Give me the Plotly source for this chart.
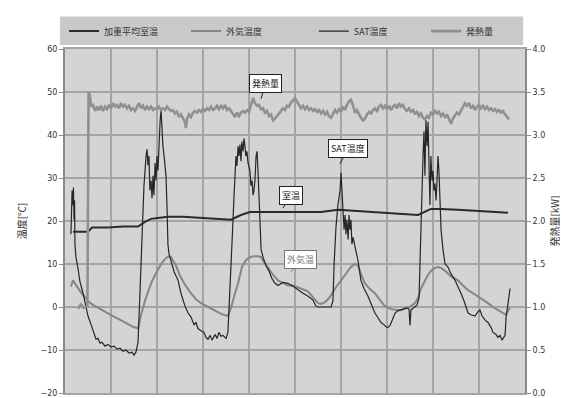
import plotly.graph_objects as go

# ---------------- data (hours from start) ----------------
sat_h = [3.1, 3.7, 4.2, 4.4, 4.7, 5.0, 5.2, 5.7, 6.8, 7.8, 9.4, 11.0, 12.0, 13.6, 15.1, 16.2, 17.2, 18.3,
         19.3, 20.9, 22.4, 24.0, 25.6, 27.1, 28.7, 30.3, 31.8, 33.4, 35.0, 36.0, 37.0, 38.1, 39.1, 40.2,
         41.2, 42.3, 42.8, 43.3, 43.8, 44.3, 44.9, 45.4, 45.9, 46.4, 47.0, 47.5, 48.0, 48.5, 49.0, 49.6,
         50.1, 50.6, 51.1, 51.7, 52.2, 52.7, 53.2, 53.7, 54.3, 55.3, 56.9, 59.0, 60.5, 62.6, 64.2, 65.7,
         67.3, 68.3, 69.4, 71.0, 72.5, 73.6, 74.6, 75.7, 76.7, 78.3, 79.3, 80.3, 81.4, 82.4, 84.0, 85.0,
         86.1, 87.1, 88.2, 89.2, 89.7, 90.3, 90.8, 91.3, 91.8, 92.3, 92.9, 93.4, 93.9, 94.4, 94.9, 95.5,
         96.5, 97.0, 97.6, 98.1, 98.6, 99.1, 99.7, 100.2, 100.7, 101.2, 101.7, 102.3, 103.3, 104.9, 106.4,
         108.0, 109.6, 111.1, 113.7, 116.3, 119.0, 121.6, 124.2, 126.8, 129.4, 130.9, 132.0, 138.8, 139.8,
         140.4, 140.9, 141.4, 142.4, 143.5, 144.0, 144.5, 145.0, 145.6, 146.1, 146.6, 147.1, 147.7, 148.2,
         148.7, 149.2, 149.7, 150.3, 151.3, 152.9, 154.4, 156.0, 158.1, 159.7, 161.7, 163.3, 164.9, 166.4,
         167.5, 168.5, 169.6, 170.6, 172.2, 173.7, 175.3, 176.9, 178.4, 179.5, 180.0, 180.5, 182.1, 183.7,
         184.7, 185.2, 185.7, 186.3, 186.8, 187.3, 187.8, 188.3, 188.9, 189.4, 189.9, 190.4, 190.9, 191.5,
         192.0, 192.5, 193.0, 193.6, 194.1, 194.6, 195.1, 195.7, 196.2, 197.2, 198.3, 199.8, 201.4, 203.5,
         205.0, 206.6, 208.2, 210.3, 211.8, 213.9, 215.5, 216.5, 217.6, 219.1, 220.7, 222.3, 223.3, 224.9,
         225.9, 227.0, 228.0, 229.0, 229.6, 230.1, 231.1, 232.2]
sat_t = [16.9, 27.1, 23.7, 27.8, 20.3, 24.8, 14.6, 11.6, 8.9, 5.9, 3.2, -0.2, -2.1, -4.1, -5.9, -7.5, -7.3, -8.4,
         -8.2, -9.1, -8.7, -9.3, -9.1, -9.8, -9.6, -10.3, -10.0, -10.7, -10.5, -11.2, -10.5, -8.2, 3.2, 16.9,
         28.2, 35.1, 36.7, 33.0, 35.1, 27.1, 29.4, 25.3, 30.5, 26.0, 33.5, 29.4, 35.1, 31.7, 39.6, 43.1,
         45.8, 40.8, 37.4, 35.1, 32.8, 30.5, 23.7, 14.6, 12.3, 10.7, 8.2, 6.2, 3.2, 0.2, -1.4, -2.3,
         -4.1, -3.6, -5.0, -5.5, -5.9, -7.1, -7.5, -6.6, -7.7, -6.4, -7.3, -5.9, -6.8, -6.6, -7.3, -5.9,
         3.2, 14.6, 26.0, 35.1, 32.8, 37.4, 35.1, 37.8, 33.9, 38.5, 36.2, 39.2, 37.4, 35.1, 36.2, 33.5,
         31.7, 28.2, 29.4, 26.0, 27.1, 29.4, 35.1, 36.2, 31.7, 24.8, 19.1, 13.4, 11.6, 9.6, 8.4,
         6.6, 5.5, 5.0, 5.7, 5.5, 4.8, 3.9, 3.2, 2.5, 1.6, 0.2, 0.0, 0.0, 1.4,
         10.0, 14.6, 18.7, 23.7, 27.1, 31.2, 26.0, 23.7, 18.0, 21.4, 16.9, 20.3, 15.7, 21.4,
         18.0, 20.3, 14.6, 16.2, 13.9, 10.7, 6.2, 4.3, 2.5, 0.9, -1.4, -2.5, -3.6, -4.1,
         -4.6, -4.8, -4.3, -3.2, -1.4, -0.9, -0.7, -0.5, -0.2, -0.5, -4.3, -0.7, -0.2, 0.5,
         2.1, 10.0, 23.7, 32.8, 35.1, 40.8, 30.5, 43.5, 37.4, 43.1, 30.5, 23.7, 35.1, 29.4,
         31.7, 27.1, 28.7, 24.8, 29.4, 35.1, 31.7, 23.7, 18.0, 13.4, 10.0, 9.3, 7.7, 6.2,
         4.8, 3.2, 1.4, -1.4, -1.8, -2.1, -1.1, -0.7, -2.1, -3.0, -3.6, -4.8, -5.9, -6.4,
         -7.1, -6.6, -7.7, -7.1, -6.6, -2.5, 1.4, 4.3]

out_h = [3.1, 4.2, 5.2, 6.8, 8.3, 10.4, 12.0, 14.6, 17.2, 19.8, 22.4, 25.0, 27.6, 30.3, 32.9, 35.5, 38.1,
         39.7, 41.7, 43.3, 44.9, 47.0, 48.5, 50.6, 52.7, 54.3, 55.3, 56.3, 57.9, 60.0, 62.6, 65.7, 68.3,
         71.0, 74.6, 78.3, 81.4, 85.0, 86.6, 88.7, 90.3, 92.3, 94.4, 96.5, 98.6, 100.7, 102.3, 103.8,
         105.9, 108.5, 111.1, 113.7, 116.3, 119.0, 121.6, 124.2, 126.8, 129.4, 132.0, 133.6, 135.7,
         137.2, 138.8, 141.4, 144.0, 146.6, 149.2, 151.3, 152.9, 154.4, 156.5, 159.2, 161.7, 164.3,
         166.9, 170.1, 172.7, 175.3, 177.9, 180.5, 182.6, 184.2, 185.7, 187.8, 189.4, 190.9, 193.0,
         194.6, 196.2, 198.3, 199.8, 201.4, 203.5, 205.0, 207.6, 210.3, 212.9, 215.5, 218.1, 220.7,
         223.3, 225.9, 228.5, 230.1, 231.1, 232.2]
out_t = [4.8, 6.2, 5.5, 4.3, 3.4, 2.3, 1.4, 0.5, -0.2, -0.9, -1.4, -2.1, -2.7, -3.4, -4.1, -4.6, -5.0,
         -1.8, 1.4, 3.6, 5.5, 7.5, 8.7, 10.3, 11.4, 11.8, 11.6, 10.9, 9.6, 7.3, 5.2, 3.2, 1.8,
         0.9, 0.0, -0.9, -1.6, -2.1, -0.2, 3.2, 5.5, 9.3, 10.9, 11.6, 11.8, 11.8, 11.6, 10.5,
         9.1, 7.5, 6.2, 5.5, 5.0, 5.0, 4.6, 4.1, 3.6, 2.3, 0.9, 0.7, 1.1,
         1.8, 2.7, 4.6, 6.2, 7.7, 9.3, 10.0, 9.6, 7.7, 5.5, 4.1, 3.2, 1.6,
         0.2, -0.5, -0.7, -0.7, -0.2, 0.2, 0.9, 2.1, 4.3, 6.2, 7.5, 8.4, 9.1,
         9.3, 9.1, 8.4, 7.7, 7.1, 6.6, 6.2, 5.0, 3.9, 3.2, 2.5, 1.6, 0.9,
         0.0, -0.7, -1.4, -1.8, -0.9, -0.2]

room_h = [4.2, 12.0, 14.1, 22.4, 30.3, 38.1, 41.7, 44.9, 48.5, 53.7, 61.6, 71.0, 79.8, 86.6, 91.8, 96.5,
          105.9, 116.3, 126.8, 133.6, 142.4, 152.9, 164.3, 173.7, 184.2, 190.9, 196.2, 205.0, 215.5,
          225.9, 231.1]
room_t = [17.5, 17.5, 18.5, 18.5, 18.7, 18.7, 19.8, 20.5, 20.7, 21.0, 21.0, 20.7, 20.5, 20.3, 21.4, 22.1,
          22.1, 22.1, 22.1, 22.1, 22.6, 22.3, 21.9, 21.6, 21.4, 22.8, 22.8, 22.6, 22.3,
          22.1, 21.9]

heat_h = [6.8, 8.3, 9.9, 11.7, 12.3, 13.0, 13.6, 14.6, 15.7, 16.7, 17.7, 18.8, 19.8, 20.9, 21.9, 23.0, 24.0,
          25.0, 26.1, 27.1, 28.2, 29.2, 30.3, 31.3, 32.3, 33.4, 34.4, 35.5, 36.5, 37.6, 38.6, 39.7, 40.7,
          41.7, 42.8, 43.8, 44.9, 45.9, 47.0, 48.0, 49.0, 50.1, 51.1, 52.2, 53.2, 54.3, 55.3, 56.3, 57.4,
          58.4, 59.5, 60.5, 61.6, 62.6, 63.1, 63.7, 64.7, 65.7, 66.8, 67.8, 68.9, 69.9, 71.0, 72.0, 73.0,
          74.1, 75.1, 76.2, 77.2, 78.3, 79.3, 80.3, 81.4, 82.4, 83.5, 84.5, 85.6, 86.6, 87.7, 88.7, 89.7,
          90.8, 91.8, 92.9, 93.9, 95.0, 96.0, 97.0, 98.1, 99.1, 100.2, 101.2, 102.3, 103.3, 104.3, 105.4,
          106.4, 107.5, 108.5, 109.6, 110.6, 111.7, 112.7, 113.7, 114.8, 115.8, 116.9, 117.9, 119.0, 120.0,
          121.0, 122.1, 123.1, 124.2, 125.2, 126.3, 127.3, 128.3, 129.4, 130.4, 131.5, 132.5, 133.6, 134.6,
          135.7, 136.7, 137.7, 138.8, 139.8, 140.9, 141.9, 143.0, 144.0, 145.0, 146.1, 147.1, 148.2, 149.2,
          150.3, 151.3, 152.3, 153.4, 154.4, 155.5, 156.5, 157.6, 158.6, 159.7, 160.7, 161.7, 162.8, 163.8,
          164.9, 165.9, 167.0, 168.0, 169.0, 170.1, 171.1, 172.2, 173.2, 174.3, 175.3, 176.3, 177.4, 178.4,
          179.5, 180.5, 181.6, 182.6, 183.7, 184.7, 185.7, 186.8, 187.8, 188.9, 189.9, 190.9, 192.0, 193.0,
          194.1, 195.1, 196.2, 197.2, 198.3, 199.3, 200.3, 201.4, 202.4, 203.5, 204.5, 205.6, 206.6, 207.7,
          208.7, 209.7, 210.8, 211.8, 212.9, 213.9, 215.0, 216.0, 217.0, 218.1, 219.1, 220.2, 221.2, 222.3,
          223.3, 224.3, 225.4, 226.4, 227.5, 228.5, 229.6, 230.6, 231.7]
heat_kw = [0.98, 1.03, 0.99, 1.01, 3.50, 3.46, 3.33, 3.35, 3.28, 3.33, 3.29, 3.34, 3.28, 3.33, 3.30, 3.35, 3.31,
           3.37, 3.33, 3.35, 3.31, 3.37, 3.33, 3.35, 3.31, 3.34, 3.29, 3.31, 3.28, 3.33, 3.37, 3.31, 3.34,
           3.29, 3.33, 3.30, 3.33, 3.29, 3.31, 3.30, 3.33, 3.29, 3.31, 3.29, 3.33, 3.30, 3.28, 3.29, 3.25,
           3.27, 3.21, 3.24, 3.19, 3.15, 3.08, 3.19, 3.24, 3.21, 3.26, 3.28, 3.26, 3.29, 3.27, 3.30, 3.28,
           3.31, 3.29, 3.33, 3.29, 3.31, 3.34, 3.30, 3.34, 3.31, 3.35, 3.29, 3.31, 3.28, 3.24, 3.21, 3.26,
           3.22, 3.26, 3.28, 3.26, 3.29, 3.27, 3.35, 3.43, 3.37, 3.34, 3.35, 3.30, 3.31, 3.26, 3.28,
           3.22, 3.24, 3.17, 3.19, 3.22, 3.26, 3.29, 3.31, 3.29, 3.34, 3.33, 3.38, 3.40, 3.43,
           3.39, 3.35, 3.31, 3.34, 3.30, 3.33, 3.29, 3.31, 3.28, 3.30, 3.27, 3.29, 3.25, 3.28,
           3.24, 3.27, 3.22, 3.20, 3.25, 3.29, 3.26, 3.30, 3.27, 3.33, 3.29, 3.35, 3.39, 3.41,
           3.34, 3.26, 3.29, 3.24, 3.20, 3.17, 3.19, 3.24, 3.27, 3.25, 3.29, 3.31, 3.28, 3.33,
           3.35, 3.31, 3.34, 3.30, 3.34, 3.29, 3.33, 3.35, 3.31, 3.37, 3.33, 3.35, 3.30, 3.28,
           3.31, 3.27, 3.29, 3.25, 3.27, 3.22, 3.25, 3.20, 3.18, 3.22, 3.20, 3.26, 3.24, 3.28,
           3.25, 3.27, 3.22, 3.25, 3.20, 3.24, 3.18, 3.13, 3.19, 3.22, 3.26, 3.24, 3.29, 3.33,
           3.37, 3.34, 3.37, 3.31, 3.34, 3.29, 3.33, 3.35, 3.31, 3.34, 3.30, 3.33, 3.29, 3.31,
           3.28, 3.30, 3.27, 3.29, 3.26, 3.28, 3.24, 3.21, 3.18]

temp_ticks = [-20, -10, 0, 10, 20, 30, 40, 50, 60]
heat_ticks = [0.0, 0.5, 1.0, 1.5, 2.0, 2.5, 3.0, 3.5, 4.0]
heat_tick_labels = ["0.0", "0.5", "1.0", "1.5", "2.0", "2.5", "3.0", "3.5", "4.0"]

series_names = ["加重平均室温", "外気温度", "SAT温度", "発熱量"]

# ---------------- figure ----------------
JP = "Noto Sans CJK JP"
fig = go.Figure()

fig.add_trace(go.Scatter(x=heat_h, y=heat_kw, name=series_names[3], yaxis="y2", mode="lines",
                         line=dict(color="#909090", width=2.6), legend="legend4"))
fig.add_trace(go.Scatter(x=out_h, y=out_t, name=series_names[1], mode="lines",
                         line=dict(color="#858585", width=2), legend="legend2"))
fig.add_trace(go.Scatter(x=sat_h, y=sat_t, name=series_names[2], mode="lines",
                         line=dict(color="#262626", width=1.2), legend="legend3"))
fig.add_trace(go.Scatter(x=room_h, y=room_t, name=series_names[0], mode="lines",
                         line=dict(color="#2a2a2a", width=2), legend="legend"))

grid = "#a4a4a4"
leg_y = 1.052
def leg(x):
    return dict(orientation="h", x=x, y=leg_y, xanchor="left", yanchor="middle",
                bgcolor="rgba(0,0,0,0)", font=dict(size=9, color="#333333", family=JP))

fig.update_layout(
    width=568, height=398,
    margin=dict(l=57, r=51, t=41, b=8),
    paper_bgcolor="white",
    plot_bgcolor="#d4d4d4",
    font=dict(family=JP, size=9, color="#333333"),
    showlegend=True,
    legend=leg(-0.002), legend2=leg(0.263), legend3=leg(0.541), legend4=leg(0.785),
    xaxis=dict(range=[0, 240], dtick=24, tick0=0, showticklabels=False, showgrid=True,
               gridcolor=grid, gridwidth=2, zeroline=False, showline=True, linecolor=grid,
               linewidth=2, mirror=True, ticks=""),
    yaxis=dict(range=[-20, 60], tickvals=temp_ticks, showgrid=True, gridcolor=grid, gridwidth=2,
               zeroline=False, showline=True, linecolor="#8a8a8a", linewidth=2, ticks="outside",
               ticklen=4, tickcolor="#8a8a8a", tickfont=dict(size=8, family="DejaVu Sans"),
               title=dict(text="温度[℃]", font=dict(size=10, family=JP), standoff=12)),
    yaxis2=dict(range=[0, 4], tickvals=heat_ticks, ticktext=heat_tick_labels, overlaying="y",
                side="right", showgrid=False, zeroline=False, showline=True, linecolor="#8a8a8a",
                linewidth=2, ticks="outside", ticklen=4, tickcolor="#8a8a8a",
                tickfont=dict(size=8, family="DejaVu Sans"),
                title=dict(text="発熱量[kW]", font=dict(size=10, family=JP), standoff=8)),
)

# grey legend band
fig.add_shape(type="rect", xref="paper", yref="paper", x0=-0.011, x1=0.996, y0=1.0115, y1=1.0946,
              fillcolor="#c9c9c9", line=dict(width=0), layer="below")

# callout labels
def callout(text, x, y, ax, ay, yref="y", color="#222222"):
    fig.add_annotation(x=x, y=y, xref="x", yref=yref, text=text, showarrow=True, arrowhead=0,
                       arrowwidth=1, arrowcolor=color, ax=ax, ay=ay,
                       bgcolor="white", bordercolor=color, borderwidth=1, borderpad=2,
                       font=dict(size=9, family=JP, color=color))

callout("発熱量", 102.3, 3.42, 4, -15, yref="y2")
callout("SAT温度", 143.5, 33.3, 8, -15)
callout("室温", 113.7, 23.0, 8, -13)
callout("外気温", 117.9, 8.2, 10, -12, color="#777777")

fig.write_html("out.html")
